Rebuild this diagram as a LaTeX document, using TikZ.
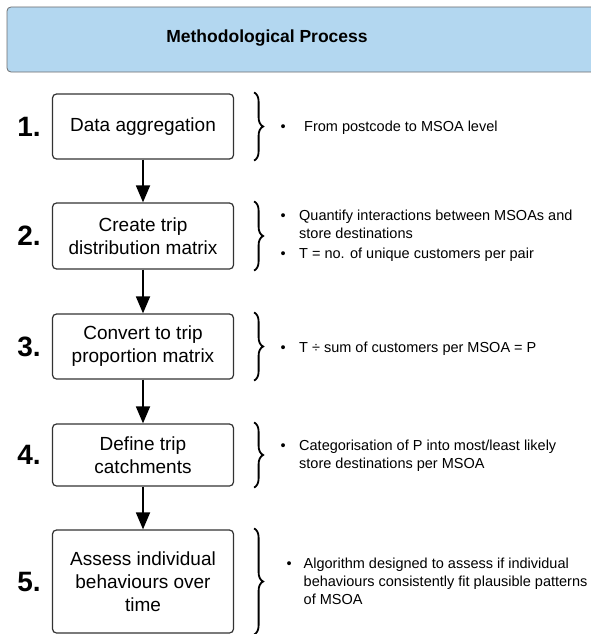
\documentclass[tikz,border=0pt]{standalone}
\usepackage{fontspec}
\setmainfont{Liberation Sans}
\usetikzlibrary{arrows.meta,positioning,decorations.pathreplacing}
\definecolor{headBlue}{RGB}{179,215,240}
\definecolor{headGray}{RGB}{110,110,110}
\definecolor{boxGray}{RGB}{50,50,50}

\begin{document}
\begin{tikzpicture}[%
    % work in pixels, y going down
    x=1pt, y=-1pt,
    every node/.style={inner sep=0pt},
    stepbox/.style={
        draw=boxGray, line width=1.2pt, rounded corners=4pt,
        minimum width=181pt, align=center,
        font=\fontsize{19}{23}\selectfont,
    },
    stepnum/.style={font=\fontsize{28}{28}\selectfont\bfseries},
    note/.style={anchor=base west, font=\fontsize{14.5}{18}\selectfont},
    flow/.style={line width=1.8pt, -{Triangle[length=17pt,width=14pt]}},
    brace/.style={decorate, decoration={brace,amplitude=9pt}, line width=1.8pt},
]
\useasboundingbox (0,0) rectangle (590,634);

% title bar
\draw[headGray, fill=headBlue, rounded corners=4pt, line width=0.8pt] (7,7) rectangle (610,72);
\node[font=\fontsize{17.5}{17.5}\selectfont\bfseries, anchor=base] (title) at (267,43) {Methodological Process};

% steps
\node[stepbox, minimum height=65pt] (b1) at (143,126.5) {Data aggregation};
\node[stepbox, minimum height=66pt] (b2) at (143,236) {Create trip\\distribution matrix};
\node[stepbox, minimum height=65pt] (b3) at (143,346.5) {Convert to trip\\proportion matrix};
\node[stepbox, minimum height=62pt] (b4) at (143,455) {Define trip\\catchments};
\node[stepbox, minimum height=103pt] (b5) at (143,581.5) {Assess individual\\behaviours over\\time};

% step numbers
\node[stepnum, left=11pt of b1] (n1) {1.};
\node[stepnum, left=11pt of b2] (n2) {2.};
\node[stepnum, left=11pt of b3] (n3) {3.};
\node[stepnum, left=11pt of b4] (n4) {4.};
\node[stepnum, left=11pt of b5] (n5) {5.};

% arrows between steps
\foreach \a/\b in {b1/b2,b2/b3,b3/b4,b4/b5}{
    \draw[flow] (\a) -- (\b);
}

% braces
\foreach \b in {b1,b2,b3,b4,b5}{
    \draw[brace] ([xshift=20pt,yshift=1pt]\b.north east) -- ([xshift=20pt,yshift=-1pt]\b.south east);
}

% notes
\node[note] (t1) at (280.5,131) {\begin{tabular}[t]{@{}p{23.5pt}@{}l@{}}
    \textbullet & From postcode to MSOA level
\end{tabular}};
\node[note] (t2) at (280.5,220) {\begin{tabular}[t]{@{}p{18.5pt}@{}l@{}}
    \textbullet & Quantify interactions between MSOAs and\\
    & store destinations\\[2pt]
    \textbullet & T = no. of unique customers per pair
\end{tabular}};
\node[note] (t3) at (280.5,352) {\begin{tabular}[t]{@{}p{18.5pt}@{}l@{}}
    \textbullet & T ÷ sum of customers per MSOA = P
\end{tabular}};
\node[note] (t4) at (280.5,450) {\begin{tabular}[t]{@{}p{18.5pt}@{}l@{}}
    \textbullet & Categorisation of P into most/least likely\\
    & store destinations per MSOA
\end{tabular}};
\node[note] (t5) at (286.5,568) {\begin{tabular}[t]{@{}p{17pt}@{}l@{}}
    \textbullet & Algorithm designed to assess if individual\\
    & behaviours consistently fit plausible patterns\\
    & of MSOA
\end{tabular}};
\end{tikzpicture}
\end{document}
